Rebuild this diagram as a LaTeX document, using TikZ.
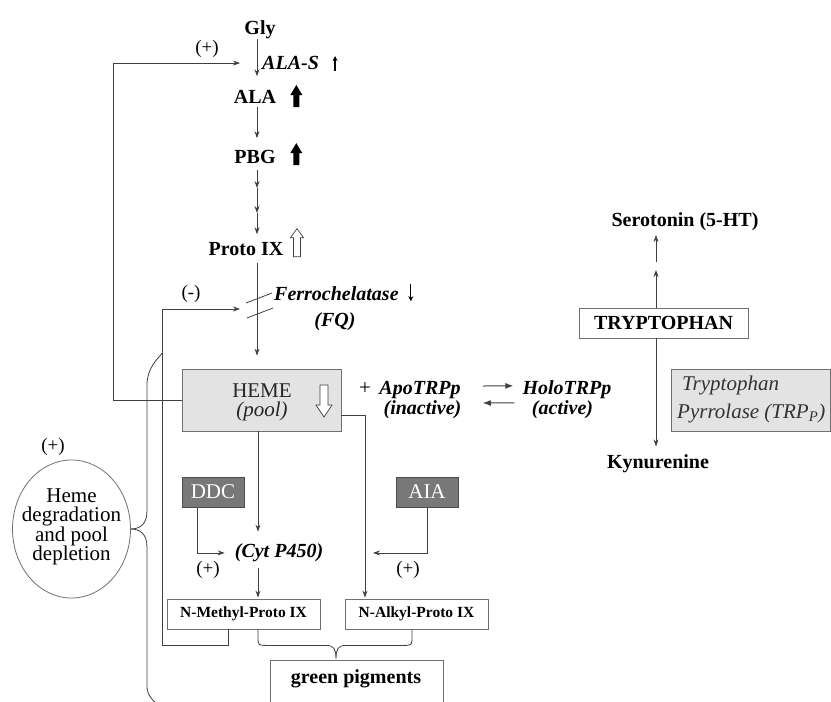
\documentclass[tikz,border=0pt]{standalone}
\usepackage{fontspec}
\setmainfont{Liberation Serif}
\usetikzlibrary{arrows.meta,shapes.geometric,calc}
\definecolor{lin}{HTML}{404040}
\definecolor{boxline}{HTML}{707070}
\definecolor{lightbox}{HTML}{E3E3E3}
\definecolor{darkbox}{HTML}{787878}
\newcommand{\myB}{\fontsize{20}{22}\selectfont\bfseries}
\newcommand{\myBI}{\fontsize{20}{22}\selectfont\bfseries\itshape}
\newcommand{\myR}{\fontsize{21}{21}\selectfont}
\newcommand{\myRI}{\fontsize{21}{21}\selectfont\itshape}
\newcommand{\mySm}{\fontsize{15.5}{17}\selectfont\bfseries}
\newcommand{\myPl}{\fontsize{19}{21}\selectfont}
\newcommand{\myEl}{\fontsize{21}{19.3}\selectfont}
\tikzset{
 thickup/.pic={\fill[black] (-3,0) -- (-3,-12) -- (-6,-12) -- (0,-22) -- (6,-12) -- (3,-12) -- (3,0) -- cycle;},
 hollowup/.pic={\filldraw[fill=white,draw=lin,line width=0.7pt] (-3.5,0) -- (-3.5,-19) -- (-6.5,-19) -- (0,-28) -- (6.5,-19) -- (3.5,-19) -- (3.5,0) -- cycle;},
 hollowdown/.pic={\filldraw[fill=white,draw=lin,line width=0.7pt] (-4,0) -- (-4,20) -- (-8,20) -- (0,32) -- (8,20) -- (4,20) -- (4,0) -- cycle;}
}
\begin{document}
\begin{tikzpicture}[x=1pt,y=-1pt,
  lab/.style={inner sep=0pt, anchor=base, font=\myB},
  pm/.style={inner sep=0pt, anchor=base, font=\myPl},
  conn/.style={draw=lin, line width=0.8pt, -{Stealth[length=7pt,width=5pt]}},
  conn2/.style={draw=black!75, line width=1pt, -{Latex[length=8pt,width=6pt]}},
  plain/.style={draw=lin, line width=0.8pt},
  lightbx/.style={draw=boxline, fill=lightbox, line width=0.8pt, inner sep=0pt},
  whitebx/.style={draw=boxline, fill=white, line width=0.8pt, inner sep=0pt},
  darkbx/.style={draw=black!70, fill=darkbox, text=white, line width=0.8pt, inner sep=0pt, font=\myR},
  tiny/.style={draw=black, line width=1.2pt, -{Stealth[length=5pt,width=5pt]}}
]
\useasboundingbox (0,0) rectangle (831,702);
\clip (0,0) rectangle (831,702);
\fill[white] (0,0) rectangle (831,702);

% ---------- coordinates ----------
\coordinate (ax) at (257,0);
\coordinate (hx) at (258,0);
\coordinate (rx) at (365,0);
\coordinate (fbx) at (113,0);
\coordinate (mlx) at (228,0);
\coordinate (loopL) at (162,645);
\coordinate (slashc) at (258,309);
\coordinate (dx) at (197,0);
\coordinate (aiax) at (427,0);
\coordinate (tx) at (656,0);
\coordinate (brx) at (412,0);
\coordinate (m1) at (257,188);
\coordinate (m2) at (257,213);
\coordinate (tm1) at (656,270);
\coordinate (tm2) at (656,262);

% ---------- heme pathway ----------
\node[lab] (gly) at (260,34.6) {Gly};
\node[pm] (plusA) at (207,53.5) {(+)};
\node[lab, font=\myBI, anchor=base west] (alas) at (262,69.6) {ALA-S};
\node[lab] (ala) at (255,103.6) {ALA};
\node[lab] (pbg) at (255,163.6) {PBG};
\node[lab] (proto) at (246,255.6) {Proto IX};
\node[pm] (minus) at (191,298.5) {(-)};
\node[lab, font=\myBI, anchor=base west] (ferro) at (274,300) {Ferrochelatase};
\node[lab, font=\myBI] (fq) at (335,326.5) {(FQ)};

\node[lightbx, minimum width=159pt, minimum height=62pt] (heme) at (261.5,400) {};
\node[inner sep=0pt, anchor=base, font=\myR, text=black!85] (hemet) at (262,397) {HEME};
\node[inner sep=0pt, anchor=base, font=\myRI, text=black!85] (pool) at (262,416.5) {(pool)};

\node[inner sep=0pt, anchor=base, font=\myR] (plusB) at (365,394.6) {+};
\node[lab, font=\myBI] (apo) at (420,394.6) {ApoTRPp};
\node[lab, font=\myBI] (inact) at (422.5,414.7) {(inactive)};
\node[lab, font=\myBI] (holo) at (567,394.6) {HoloTRPp};
\node[lab, font=\myBI] (act) at (562.5,414.7) {(active)};

% ---------- tryptophan ----------
\node[lab] (sero) at (685,226.6) {Serotonin (5-HT)};
\node[whitebx, font=\myB, minimum width=169pt, minimum height=30pt] (tryp) at (663.5,323) {TRYPTOPHAN};
\node[lab] (kyn) at (658,468.5) {Kynurenine};
\node[lightbx, minimum width=159pt, minimum height=62pt] (pyr) at (750.5,400) {};
\node[inner sep=0pt, anchor=base west, font=\myRI, text=black!80] (pyr1) at (682,390) {Tryptophan};
\node[inner sep=0pt, anchor=base west, font=\myRI, text=black!80] (pyr2) at (677,418) {Pyrrolase (TRP\textsubscript{P})};

% ---------- lower part ----------
\node[darkbx, minimum width=62pt, minimum height=30pt] (ddc) at (213,492) {DDC};
\node[darkbx, minimum width=62pt, minimum height=30pt] (aia) at (427,492) {AIA};
\node[lab, font=\myBI] (cyt) at (279,557.7) {(Cyt P450)};
\node[pm] (plusC) at (208,574.5) {(+)};
\node[pm] (plusD) at (408,574.5) {(+)};
\node[whitebx, font=\mySm, minimum width=153pt, minimum height=30pt] (nmethyl) at (243.5,614) {N-Methyl-Proto IX};
\node[whitebx, font=\mySm, minimum width=143pt, minimum height=30pt] (nalkyl) at (416.5,614) {N-Alkyl-Proto IX};
\node[whitebx, minimum width=173pt, minimum height=60pt] (gp) at (356.5,690) {};
\node[lab] (gpt) at (356,683.5) {green pigments};

\node[draw=boxline, line width=0.8pt, ellipse, minimum width=118pt, minimum height=138pt, inner sep=0pt] (ell) at (71.5,529) {};
\node[inner sep=0pt, align=center, font=\myEl] (elltxt) at (71.5,527) {Heme\\degradation\\and pool\\depletion};
\node[pm] (plusE) at (53,451.5) {(+)};

% ---------- main chain connectors ----------
\draw[conn, shorten >=14pt] (gly.south -| ax) -- (ala.north -| ax);
\draw[conn, shorten <=3pt, shorten >=12pt] (ala.south -| ax) -- (pbg.north -| ax);
\draw[conn, shorten <=6pt] (pbg.south -| ax) -- (m1);
\draw[conn] (m1) -- (m2);
\draw[conn, shorten >=8pt] (m2) -- (proto.north -| ax);
\draw[conn, shorten <=7pt, shorten >=13pt] (proto.south -| ax) -- (heme.north -| ax);

% slashes (ferrochelatase block)
\draw[plain] (slashc) ++(-12,-6) -- ++(26,-10);
\draw[plain] (slashc) ++(-11,9) -- ++(26,-10);

% feedback HEME -> ALA-S (+)
\draw[conn] (heme.west) -| (fbx |- alas.west) -- ([xshift=-22pt]alas.west);
% (-) feedback from N-Methyl-Proto IX to ferrochelatase
\draw[conn] (nmethyl.south -| mlx) |- (loopL) |- ($(slashc)+(-18,0)$);

% small indicator arrows
\draw[tiny] ([xshift=16pt,yshift=-8pt]alas.east) -- ([xshift=16pt,yshift=7pt]alas.east);
\draw[tiny] ([xshift=12pt,yshift=9pt]ferro.east) -- ([xshift=12pt,yshift=-8pt]ferro.east);
\pic at ([xshift=20pt,yshift=-10pt]ala.east) {thickup};
\pic at ([xshift=20.5pt,yshift=-8pt]pbg.east) {thickup};
\pic at ([xshift=13.5pt,yshift=-7.5pt]proto.east) {hollowup};
\pic at ([xshift=62.5pt,yshift=15pt]heme.center) {hollowdown};

% Apo <-> Holo
\draw[conn2, shorten <=22pt, shorten >=9pt] ([yshift=4pt]apo.east) -- ([yshift=4pt]holo.west);
\draw[conn2, shorten <=8pt, shorten >=22pt] ([yshift=-13pt]holo.west) -- ([yshift=-13pt]apo.east);

% tryptophan connectors
\draw[conn] (tryp.north -| tx) -- (tm1);
\draw[conn, shorten >=4pt] (tm2) -- (sero.south -| tx);
\draw[conn, shorten >=8pt] (tryp.south -| tx) -- (kyn.north -| tx);

% lower connectors
\draw[conn, shorten >=12pt] (heme.south -| hx) -- (cyt.north -| hx);
\draw[conn, shorten <=6pt, shorten >=1pt] (cyt.south -| hx) -- (nmethyl.north -| hx);
\draw[conn, shorten >=1pt] ([yshift=-15pt]heme.east) -| (nalkyl.north -| rx);
\draw[conn] (ddc.south -| dx) |- ([xshift=-10pt]cyt.west);
\draw[conn] (aia.south -| aiax) |- ([xshift=8pt]cyt.east -| rx);

% brace into green pigments
\draw[plain] (nmethyl.south -| hx) -- ++(0,7) .. controls +(0,9) and +(-9,0) .. ++(9,9) -- ++(59,0) .. controls +(8,0) and +(0,-9) .. ++(10,13);
\draw[plain] (nalkyl.south -| brx) -- ++(0,7) .. controls +(0,9) and +(9,0) .. ++(-9,9) -- ++(-57,0) .. controls +(-8,0) and +(0,-9) .. ++(-10,13);

% brace from heme degradation ellipse
\draw[plain] (ell.east) .. controls +(9,0) and +(0,12) .. ++(16,-17) -- ++(0,-126) .. controls +(0,-18) and +(-5,6) .. ++(15.5,-33);
\draw[plain] (ell.east) .. controls +(9,0) and +(0,-12) .. ++(16,17) -- ++(0,140) .. controls +(0,10) and +(-5,-5) .. ++(12,20);
\end{tikzpicture}
\end{document}
